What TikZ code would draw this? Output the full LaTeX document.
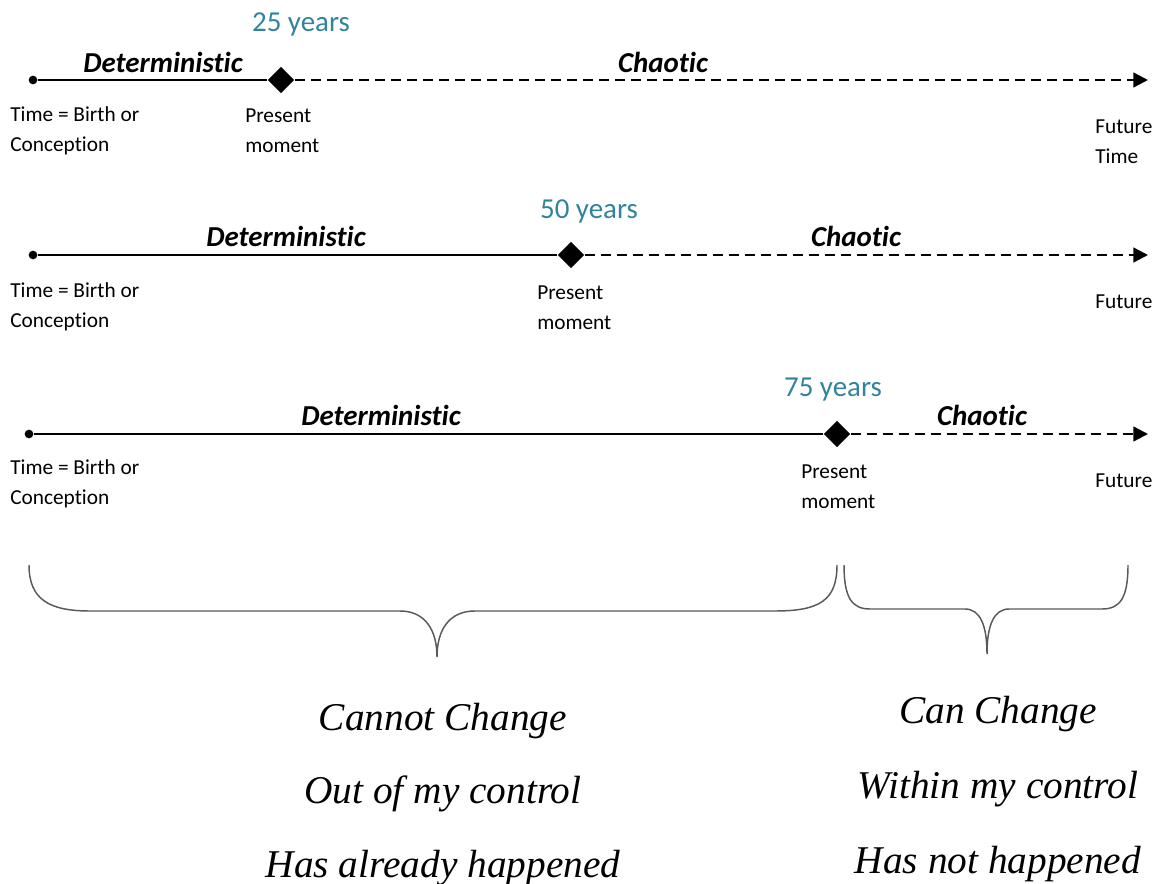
\documentclass[tikz,border=0pt]{standalone}
\usepackage{fontspec}
\setmainfont{Carlito}[Ligatures={NoCommon,NoRare}, Contextuals=NoAlternate, RawFeature=-calt]
\newfontfamily\verdictfont{Liberation Serif}
\usetikzlibrary{arrows.meta,shapes.geometric}
\definecolor{yearcol}{RGB}{49,132,155}

\begin{document}
\begin{tikzpicture}[x=0.75pt, y=-0.75pt,
  dot/.style = {circle, fill, inner sep=0pt, minimum size=6.5pt},
  now/.style = {diamond, fill, inner sep=0pt, minimum size=20pt},
  past/.style = {line width=1.8pt},
  future/.style = {line width=1.8pt, dash pattern=on 7.5pt off 4.5pt, -{Triangle[length=11pt,width=11pt]}},
  phase/.style = {anchor=base, font=\fontsize{21.7}{26}\selectfont\bfseries\itshape},
  years/.style = {anchor=base, text=yearcol, font=\fontsize{21.7}{26}\selectfont},
  lbl/.style = {anchor=west, align=left, inner sep=0pt, font=\fontsize{16}{22.5}\selectfont},
  verdict/.style = {anchor=base, font=\fontsize{29.5}{35}\selectfont\verdictfont\itshape},
  brace/.style = {draw=black!65, line width=1.1pt}]
\useasboundingbox (0,0) rectangle (1156,884);

% first line: 25 years
\node[dot] (b1) at (33,80) {};
\node[now] (p1) at (281,80) {};
\coordinate (f1) at (1148,80);
\draw[past] (b1) -- (p1);
\draw[future] (p1) -- (f1);
\node[phase] (d1) at (163,73) {Deterministic};
\node[phase] (c1) at (663,73) {Chaotic};
\node[years] (y1) at (301,32) {25 years};
\node[lbl] (tb1) at (10,131) {Time = Birth or\\Conception};
\node[lbl] (tp1) at (245,131) {Present\\moment};
\node[lbl] (tf1) at (1095,142) {Future\\Time};

% second line: 50 years
\node[dot] (b2) at (33,255) {};
\node[now] (p2) at (571,255) {};
\coordinate (f2) at (1148,255);
\draw[past] (b2) -- (p2);
\draw[future] (p2) -- (f2);
\node[phase] (d2) at (286,247) {Deterministic};
\node[phase] (c2) at (856,247) {Chaotic};
\node[years] (y2) at (589,219) {50 years};
\node[lbl] (tb2) at (10,307) {Time = Birth or\\Conception};
\node[lbl] (tp2) at (537,308) {Present\\moment};
\node[lbl] (tf2) at (1095,302) {Future};

% third line: 75 years
\node[dot] (b3) at (29,434) {};
\node[now] (p3) at (837,434) {};
\coordinate (f3) at (1148,434);
\draw[past] (b3) -- (p3);
\draw[future] (p3) -- (f3);
\node[phase] (d3) at (381,425) {Deterministic};
\node[phase] (c3) at (982,425) {Chaotic};
\node[years] (y3) at (833,396) {75 years};
\node[lbl] (tb3) at (10,484) {Time = Birth or\\Conception};
\node[lbl] (tp3) at (801,487) {Present\\moment};
\node[lbl] (tf3) at (1095,481) {Future};

% braces
\draw[brace] (29,565) .. controls (29,600) and (50,611) .. (90,611) -- (400,611)
  .. controls (425,611) and (437,630) .. (437,657)
  .. controls (437,630) and (449,611) .. (475,611) -- (775,611)
  .. controls (820,611) and (837,600) .. (837,565);
\draw[brace] (844,565) .. controls (844,598) and (852,609) .. (870,609) -- (965,609)
  .. controls (980,609) and (987,625) .. (987,654)
  .. controls (987,625) and (994,609) .. (1009,609) -- (1102,609)
  .. controls (1120,609) and (1128,598) .. (1128,565);

% what can and cannot change
\node[verdict] (n1) at (443,730) {Cannot Change};
\node[verdict] (n2) at (443,803) {Out of my control};
\node[verdict] (n3) at (443,877) {Has already happened};
\node[verdict] (m1) at (998,723) {Can Change};
\node[verdict] (m2) at (998,798) {Within my control};
\node[verdict] (m3) at (998,873) {Has not happened};
\end{tikzpicture}
\end{document}
